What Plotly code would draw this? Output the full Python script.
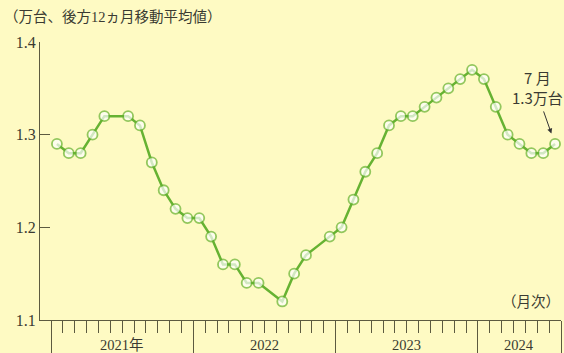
import plotly.graph_objects as go

# ---- data ----
years = ["2021年", "2022", "2023", "2024"]
months_per_year = [12, 12, 12, 7]
values = [
    1.29, 1.28, 1.28, 1.30, 1.32, 1.32, 1.32, 1.31, 1.27, 1.24, 1.22, 1.21,   # 2021
    1.21, 1.19, 1.16, 1.16, 1.14, 1.14, 1.13, 1.12, 1.15, 1.17, 1.18, 1.19,   # 2022
    1.20, 1.23, 1.26, 1.28, 1.31, 1.32, 1.32, 1.33, 1.34, 1.35, 1.36, 1.37,   # 2023
    1.36, 1.33, 1.30, 1.29, 1.28, 1.28, 1.29,                                 # 2024
]
# months drawn without a circle marker in the original
unmarked = [5, 18, 22]
y_ticks = [1.1, 1.2, 1.3, 1.4]
y_tick_labels = ["1.1", "1.2", "1.3", "1.4"]
title_text = "（万台、後方12ヵ月移動平均値）"
unit_text = "（月次）"
note_text = "7 月<br>1.3万台"

# ---- derived ----
n = len(values)
xs = [i + 0.5 for i in range(n)]
sizes = [0 if i in unmarked else 10 for i in range(n)]
bounds = [0]
for m in months_per_year:
    bounds.append(bounds[-1] + m)
centers = [(bounds[i] + bounds[i + 1]) / 2 for i in range(len(years))]

BG = "#FEFAC3"
GREEN = "#66B232"
AXIS = "#5C5A40"
TXT = "#3A3A32"
SERIF = "Liberation Serif, DejaVu Serif, Noto Sans CJK JP, serif"
SANS = "Noto Sans CJK JP, Noto Sans, sans-serif"

W, H = 564, 353
fig = go.Figure()
fig.add_trace(go.Scatter(
    x=xs, y=values, mode="lines+markers",
    line=dict(color=GREEN, width=2.5),
    marker=dict(size=sizes, color="white", line=dict(color=GREEN, width=1.8)),
    hoverinfo="skip", showlegend=False, cliponaxis=False,
))

x_left_px, x_right_px = 40, 561
first_px, month_px = 51, (561 - 51) / 43
x0 = (x_left_px - first_px) / month_px
x1 = (x_right_px - first_px) / month_px

fig.update_layout(
    width=W, height=H,
    margin=dict(l=0, r=0, t=0, b=0, autoexpand=False),
    paper_bgcolor=BG, plot_bgcolor=BG,
    xaxis=dict(
        domain=[x_left_px / W, x_right_px / W],
        range=[x0, x1], automargin=False,
        showgrid=False, zeroline=False,
        showline=True, linecolor=AXIS, linewidth=1.3,
        tickmode="array", tickvals=bounds, ticks="outside",
        ticklen=40, tickwidth=1.3, tickcolor=AXIS,
        showticklabels=False,
        minor=dict(tickmode="linear", tick0=0, dtick=1, ticks="outside",
                   ticklen=12, tickwidth=1.2, tickcolor=AXIS, showgrid=False),
    ),
    yaxis=dict(
        domain=[(H - 320) / H, (H - 42) / H],
        range=[1.1, 1.4], automargin=False,
        showgrid=False, zeroline=False,
        showline=True, linecolor=AXIS, linewidth=1.3,
        tickmode="array", tickvals=y_ticks, ticktext=y_tick_labels,
        ticks="inside", ticklen=10, tickwidth=1.3, tickcolor=AXIS,
        tickfont=dict(family=SERIF, size=16, color=TXT),
    ),
)

ann = []
ann.append(dict(text=title_text, xref="paper", yref="paper", x=2 / W, y=(H - 17) / H,
                xanchor="left", yanchor="middle", showarrow=False,
                font=dict(family=SERIF, size=14.5, color=TXT)))
ann.append(dict(text=unit_text, xref="paper", yref="paper", x=562 / W, y=(H - 302) / H,
                xanchor="right", yanchor="middle", showarrow=False,
                font=dict(family=SERIF, size=14.5, color=TXT)))
for c, lab in zip(centers, years):
    ann.append(dict(text=lab, x=c, xref="x", yref="paper", y=(H - 345) / H,
                    xanchor="center", yanchor="middle", showarrow=False,
                    font=dict(family=SERIF, size=14.5, color=TXT)))
ann.append(dict(text=note_text, x=xs[-1], y=values[-1], xref="x", yref="y",
                xshift=-18, yshift=56, xanchor="center", yanchor="middle",
                showarrow=False, align="center",
                font=dict(family=SANS, size=15, color=TXT)))
ann.append(dict(text="", x=xs[-1], y=values[-1], xref="x", yref="y",
                ax=-12, ay=-34, axref="pixel", ayref="pixel",
                showarrow=True, arrowhead=2, arrowsize=1, arrowwidth=1,
                arrowcolor="#333333", standoff=11))
fig.update_layout(annotations=ann)

fig.write_html("out.html")
